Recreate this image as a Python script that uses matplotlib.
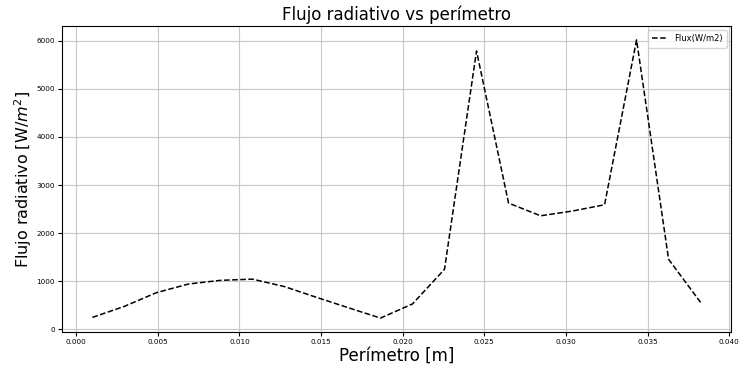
import matplotlib
matplotlib.use("Agg")
import matplotlib.pyplot as plt

perimetro = [0.00100, 0.00296, 0.00492, 0.00688, 0.00884, 0.01080, 0.01276,
             0.01472, 0.01668, 0.01864, 0.02060, 0.02256, 0.02452, 0.02648,
             0.02844, 0.03040, 0.03236, 0.03432, 0.03628, 0.03824]
flux = [250, 480, 764, 944, 1020, 1045, 890, 667, 450, 236,
        530, 1250, 5785, 2625, 2361, 2460, 2590, 6014, 1458, 562]

fig = plt.figure(figsize=(7.41, 3.69), dpi=100)
ax = fig.add_axes([62/741, 1-332/369, (731-62)/741, (332-26)/369])
ax.plot(perimetro, flux, linestyle='--', color='black', linewidth=1.1, label='Flux(W/m2)')
ax.grid(True, color='#c8c8c8', linewidth=0.8)
ax.set_title('Flujo radiativo vs perímetro', fontsize=12, pad=4)
ax.set_xlabel('Perímetro [m]', fontsize=12, labelpad=1)
ax.set_ylabel('Flujo radiativo [W/$m^2$]', fontsize=11.5, labelpad=2)
ax.tick_params(labelsize=5.2, pad=2, length=3)
ax.legend(loc='upper right', fontsize=6, handlelength=1.8, borderpad=0.5)
fig.savefig('out.png', dpi=100)
